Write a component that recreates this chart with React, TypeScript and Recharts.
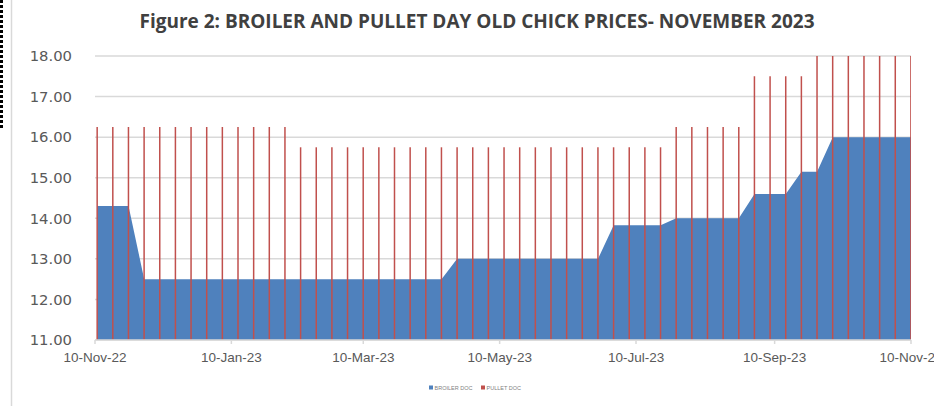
import React from "react";
import { ComposedChart, Area, Bar, XAxis, YAxis, CartesianGrid } from "recharts";

// weekly observations (Fridays)
const weeks = [
  "2022-11-11", "2022-11-18", "2022-11-25",
  "2022-12-02", "2022-12-09", "2022-12-16", "2022-12-23", "2022-12-30",
  "2023-01-06", "2023-01-13", "2023-01-20", "2023-01-27",
  "2023-02-03", "2023-02-10", "2023-02-17", "2023-02-24",
  "2023-03-03", "2023-03-10", "2023-03-17", "2023-03-24", "2023-03-31",
  "2023-04-07", "2023-04-14", "2023-04-21", "2023-04-28",
  "2023-05-05", "2023-05-12", "2023-05-19", "2023-05-26",
  "2023-06-02", "2023-06-09", "2023-06-16", "2023-06-23", "2023-06-30",
  "2023-07-07", "2023-07-14", "2023-07-21", "2023-07-28",
  "2023-08-04", "2023-08-11", "2023-08-18", "2023-08-25",
  "2023-09-01", "2023-09-08", "2023-09-15", "2023-09-22", "2023-09-29",
  "2023-10-06", "2023-10-13", "2023-10-20", "2023-10-27",
  "2023-11-03", "2023-11-10",
];

const broilerDoc = [
  14.3, 14.3, 14.3,
  12.5, 12.5, 12.5, 12.5, 12.5,
  12.5, 12.5, 12.5, 12.5,
  12.5, 12.5, 12.5, 12.5,
  12.5, 12.5, 12.5, 12.5, 12.5,
  12.5, 12.5, 13.0, 13.0,
  13.0, 13.0, 13.0, 13.0,
  13.0, 13.0, 13.0, 13.0, 13.83,
  13.83, 13.83, 13.83, 14.0,
  14.0, 14.0, 14.0, 14.0,
  14.6, 14.6, 14.6, 15.15, 15.15,
  16.0, 16.0, 16.0, 16.0,
  16.0, 16.0,
];

const pulletDoc = [
  16.25, 16.25, 16.25,
  16.25, 16.25, 16.25, 16.25, 16.25,
  16.25, 16.25, 16.25, 16.25,
  16.25, 15.75, 15.75, 15.75,
  15.75, 15.75, 15.75, 15.75, 15.75,
  15.75, 15.75, 15.75, 15.75,
  15.75, 15.75, 15.75, 15.75,
  15.75, 15.75, 15.75, 15.75, 15.75,
  15.75, 15.75, 15.75, 16.25,
  16.25, 16.25, 16.25, 16.25,
  17.5, 17.5, 17.5, 17.5, 18.0,
  18.0, 18.0, 18.0, 18.0,
  18.0, 18.0,
];

const dateTicks = ["2022-11-10", "2023-01-10", "2023-03-10", "2023-05-10", "2023-07-10", "2023-09-10", "2023-11-10"];
const priceTicks = [11, 12, 13, 14, 15, 16, 17, 18];

const MONTHS = ["Jan", "Feb", "Mar", "Apr", "May", "Jun", "Jul", "Aug", "Sep", "Oct", "Nov", "Dec"];

function fmtDate(t: number) {
  const d = new Date(t);
  return `${d.getUTCDate()}-${MONTHS[d.getUTCMonth()]}-${String(d.getUTCFullYear()).slice(2)}`;
}

const data = weeks.map((w, i) => ({
  date: Date.parse(w),
  broiler: broilerDoc[i],
  pullet: pulletDoc[i],
}));

const tickNums = dateTicks.map((d) => Date.parse(d));

export default function App() {
  return (
    <div style={{ position: "absolute", left: 0, top: 0, width: 934, height: 406, background: "#fff" }}>
      <ComposedChart width={934} height={406} data={data} margin={{ top: 56, right: 23, bottom: 36, left: 0 }}>
        <CartesianGrid vertical={false} stroke="#d9d9d9" strokeWidth={1.5} />
        <XAxis
          dataKey="date"
          type="number"
          domain={[tickNums[0], tickNums[tickNums.length - 1]]}
          allowDataOverflow
          ticks={tickNums}
          interval={0}
          tickFormatter={fmtDate}
          height={30}
          tickSize={4}
          tickMargin={8}
          axisLine={{ stroke: "#d9d9d9", strokeWidth: 1.5 }}
          tickLine={{ stroke: "#d9d9d9", strokeWidth: 1.5 }}
          tick={{ fill: "#595959", fontSize: 13.5, fontFamily: "Liberation Sans" }}
        />
        <YAxis
          domain={[11, 18]}
          allowDataOverflow
          ticks={priceTicks}
          interval={0}
          tickFormatter={(v: number) => v.toFixed(2)}
          width={95}
          axisLine={false}
          tickLine={false}
          tickSize={0}
          tickMargin={23}
          tick={{ fill: "#595959", fontSize: 14.8, fontFamily: "DejaVu Sans" }}
        />
        <Area
          dataKey="broiler"
          type="linear"
          fill="#4f81bd"
          fillOpacity={1}
          stroke="none"
          dot={false}
          activeDot={false}
          isAnimationActive={false}
        />
        <Bar dataKey="pullet" fill="#c0504d" barSize={1.5} isAnimationActive={false} />
      </ComposedChart>
      <svg
        width={934}
        height={406}
        style={{ position: "absolute", left: 0, top: 0, pointerEvents: "none" }}
      >
        <line x1={11.5} y1={0} x2={11.5} y2={406} stroke="#d9d9d9" strokeWidth={1.5} />
        <line x1={1.5} y1={0} x2={1.5} y2={130} stroke="#000" strokeWidth={3} strokeDasharray="3 2" />
        <text
          x={477}
          y={28}
          textAnchor="middle"
          fontFamily="Open Sans"
          fontWeight={700}
          fontSize={19}
          fill="#404040"
          textLength={675}
          lengthAdjust="spacingAndGlyphs"
        >
          Figure 2: BROILER AND PULLET DAY OLD CHICK PRICES- NOVEMBER 2023
        </text>
        <rect x={429} y={385.5} width={4} height={4} fill="#4f81bd" />
        <text x={434.5} y={389.5} fontFamily="Liberation Sans" fontSize={5.5} fill="#7f7f7f">
          BROILER DOC
        </text>
        <rect x={481} y={385.5} width={4} height={4} fill="#c0504d" />
        <text x={486.5} y={389.5} fontFamily="Liberation Sans" fontSize={5.5} fill="#7f7f7f">
          PULLET DOC
        </text>
      </svg>
    </div>
  );
}
